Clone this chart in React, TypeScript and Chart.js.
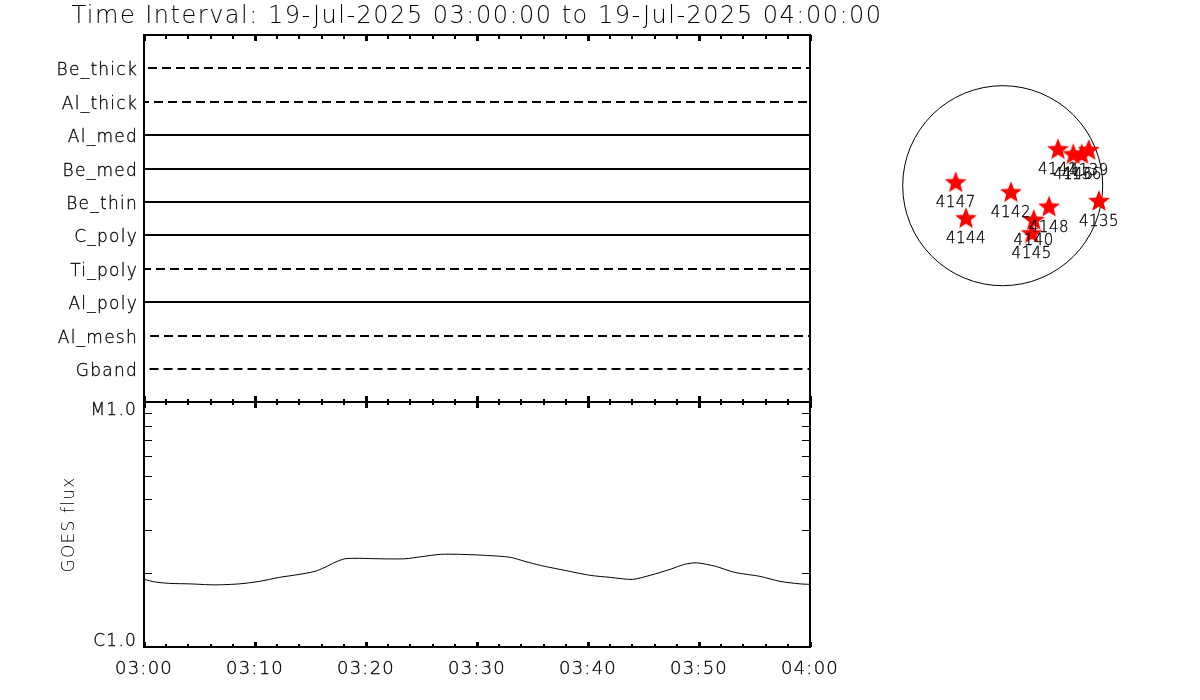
import React, { useEffect, useRef } from "react";
import { Chart, registerables } from "chart.js";

Chart.register(...registerables);

const titleText = "Time Interval: 19-Jul-2025 03:00:00 to 19-Jul-2025 04:00:00";
const filters = ["Be_thick", "Al_thick", "Al_med", "Be_med", "Be_thin", "C_poly", "Ti_poly", "Al_poly", "Al_mesh", "Gband"];
const filterLevels = [10.011, 8.992, 8.003, 6.984, 5.995, 5.005, 3.986, 2.997, 1.978, 0.989];
const filterStart = [0.36, 0, 0, 0, 0, 0, 0, 0, 0, 0.5];
const filterEnd = [60, 60, 60, 60, 60, 60, 60, 60, 60, 60];
const filterDashed = [true, true, false, false, false, false, true, false, true, true];
const filterDashPhase = [0, 4, 0, 0, 0, 0, 2, 0, 8, 0];

const goesMinutes = [0, 0.95, 2.3, 4.1, 6.36, 8.6, 10.4, 12.2, 14.0, 15.4, 16.3, 17.2, 18.1, 19.4, 21.2, 23.5, 24.9, 26.7, 28.4, 30.7, 33.0, 34.3, 35.7, 37.9, 40.2, 42.0, 44.0, 45.6, 47.4, 48.7, 49.8, 51.5, 53.2, 55.5, 57.3, 59.1, 60];
const goesFlux = [1.888, 1.844, 1.818, 1.81, 1.793, 1.81, 1.853, 1.924, 1.979, 2.036, 2.114, 2.216, 2.291, 2.301, 2.291, 2.291, 2.334, 2.389, 2.389, 2.367, 2.323, 2.237, 2.154, 2.055, 1.961, 1.924, 1.888, 1.961, 2.075, 2.175, 2.206, 2.134, 2.017, 1.942, 1.853, 1.81, 1.802];
const goesTicks = [1, 2, 3, 4, 5, 6, 7, 8, 9, 10];
const goesLabels: Record<number, string> = { 1: "C1.0", 10: "M1.0" };
const timeLabels: Record<number, string> = { 0: "03:00", 10: "03:10", 20: "03:20", 30: "03:30", 40: "03:40", 50: "03:50", 60: "04:00" };

const regionIds = ["4141", "4146", "4136", "4139", "4147", "4144", "4142", "4148", "4140", "4145", "4135"];
const regionX = [523, 667, 747, 813, -444, -347, 78, 438, 293, 274, 910];
const regionY = [344, 297, 297, 337, 32, -308, -62, -198, -324, -450, -145];

const FONT = "'DejaVu Sans'";
const AREA = { left: 144, right: 810, top: 35, split: 402, bottom: 647 };
const DISK = { cx: 1002.7, cy: 185.7, r: 100, arcsec: 945 };

function makeStar() {
  const c = document.createElement("canvas");
  c.width = 26;
  c.height = 26;
  const g = c.getContext("2d")!;
  g.fillStyle = "#ff0000";
  g.beginPath();
  for (let i = 0; i < 10; i++) {
    const r = i % 2 === 0 ? 11.5 : 5;
    const a = -Math.PI / 2 + (i * Math.PI) / 5;
    const px = 13 + r * Math.cos(a);
    const py = 13.5 + r * Math.sin(a);
    if (i === 0) g.moveTo(px, py);
    else g.lineTo(px, py);
  }
  g.closePath();
  g.fill();
  return c;
}

const stroke = (g: CanvasRenderingContext2D, w: number, x1: number, y1: number, x2: number, y2: number) => {
  g.lineWidth = w;
  g.beginPath();
  g.moveTo(x1, y1);
  g.lineTo(x2, y2);
  g.stroke();
};

const shiftLabels = (s: any, by: (label: string) => number) => {
  if (s.__shifted) return;
  s.__shifted = true;
  const orig = s._computeLabelItems.bind(s);
  s._computeLabelItems = (ca: any) =>
    orig(ca).map((it: any) => {
      it.options.translation[1] += by(it.label);
      return it;
    });
};

const spacing = (id: string, px: string) => ({
  id,
  beforeDraw(chart: any) {
    chart.ctx.letterSpacing = px;
  },
});

export default function App() {
  const titleRef = useRef<HTMLCanvasElement>(null);
  const topRef = useRef<HTMLCanvasElement>(null);
  const botRef = useRef<HTMLCanvasElement>(null);
  const diskRef = useRef<HTMLCanvasElement>(null);

  useEffect(() => {
    const W = 1200;
    const H = 700;
    const xTicks = { stepSize: 2, autoSkip: false, maxRotation: 0, minRotation: 0, includeBounds: true };
    const textInk = { textStrokeColor: "#000", textStrokeWidth: 0.3 };

    const head = new Chart(titleRef.current!, {
      type: "line",
      data: { datasets: [] },
      options: {
        responsive: false,
        animation: false,
        events: [],
        plugins: {
          legend: { display: false },
          tooltip: { enabled: false },
          title: {
            display: true,
            text: titleText,
            color: "#000",
            font: { family: FONT, size: 24, weight: "200", lineHeight: 1.2 },
            padding: { top: 2, bottom: 2 },
          },
        },
        scales: { x: { display: false }, y: { display: false } },
      } as any,
      plugins: [spacing("headSpacing", "1.5px")] as any,
    });

    const top = new Chart(topRef.current!, {
      type: "line",
      data: {
        datasets: filters.map((name, i) => ({
          label: name,
          data: [
            { x: filterStart[i], y: filterLevels[i] },
            { x: filterEnd[i], y: filterLevels[i] },
          ],
          borderColor: "#000",
          borderWidth: 2,
          borderCapStyle: "butt",
          borderDash: filterDashed[i] ? [9, 5] : [],
          borderDashOffset: filterDashPhase[i],
          pointRadius: 0,
        })),
      },
      options: {
        responsive: false,
        animation: false,
        events: [],
        layout: { padding: { left: 0, right: W - AREA.right, top: AREA.top, bottom: H - AREA.split } },
        plugins: { legend: { display: false }, tooltip: { enabled: false } },
        scales: {
          x: {
            type: "linear",
            min: 0,
            max: 60,
            grid: { display: false },
            border: { display: false },
            ticks: { ...xTicks, display: false },
            afterFit: (s: any) => { s.height = 0; },
          },
          y: {
            type: "linear",
            min: 0,
            max: 11,
            grid: { display: false, drawTicks: false },
            border: { display: false },
            afterBuildTicks: (s: any) => { s.ticks = filterLevels.map((value) => ({ value })); },
            ticks: {
              ...textInk,
              autoSkip: false,
              padding: 6,
              color: "#000",
              font: { family: FONT, size: 17, weight: "200" },
              callback: (v: any) => filters[filterLevels.indexOf(v)] ?? "",
            },
            afterFit: (s: any) => {
              s.width = AREA.left;
              shiftLabels(s, () => 3);
            },
          },
        },
      } as any,
      plugins: [
        spacing("topSpacing", "1.25px"),
        {
          id: "topFrame",
          afterDatasetsDraw(chart: any) {
            const g = chart.ctx as CanvasRenderingContext2D;
            const { left, right, top: t, bottom } = chart.chartArea;
            g.save();
            g.strokeStyle = "#000";
            g.setLineDash([]);
            stroke(g, 2, left - 1, t, right + 1, t);
            stroke(g, 2, left - 1, bottom, right + 1, bottom);
            stroke(g, 2, left, t, left, bottom);
            stroke(g, 2, right, t, right, bottom);
            for (const tick of chart.scales.x.ticks) {
              const x = Math.round(chart.scales.x.getPixelForValue(tick.value));
              const major = tick.value % 10 === 0;
              const w = major ? 3 : 2;
              const xx = major ? x + 0.5 : x;
              stroke(g, w, xx, t, xx, t + (major ? 6 : 4));
              stroke(g, w, xx, bottom, xx, bottom - (major ? 6 : 3));
            }
            g.restore();
          },
        },
      ] as any,
    });

    const bot = new Chart(botRef.current!, {
      type: "line",
      data: {
        datasets: [
          {
            label: "GOES flux",
            data: goesMinutes.map((x, i) => ({ x, y: goesFlux[i] })),
            borderColor: "#000",
            borderWidth: 1,
            pointRadius: 0,
            tension: 0.25,
          },
        ],
      },
      options: {
        responsive: false,
        animation: false,
        events: [],
        layout: { padding: { left: 0, right: W - AREA.right, top: AREA.split, bottom: 0 } },
        plugins: { legend: { display: false }, tooltip: { enabled: false } },
        scales: {
          x: {
            type: "linear",
            min: 0,
            max: 60,
            grid: { display: false, drawTicks: false },
            border: { display: false },
            ticks: {
              ...xTicks,
              ...textInk,
              padding: 12,
              color: "#000",
              font: { family: FONT, size: 18, weight: "200" },
              callback: (v: any) => timeLabels[Number(v)] ?? "",
            },
            afterFit: (s: any) => { s.height = H - AREA.bottom; },
          },
          y: {
            type: "logarithmic",
            min: 1,
            max: 10,
            grid: { display: false, drawTicks: false },
            border: { display: false },
            title: {
              display: true,
              text: "GOES flux",
              color: "#000",
              font: { family: FONT, size: 17, weight: "200", lineHeight: 1.2 },
              padding: { top: 59, bottom: 0 },
            },
            afterBuildTicks: (s: any) => { s.ticks = goesTicks.map((value) => ({ value })); },
            ticks: {
              ...textInk,
              autoSkip: false,
              padding: 7,
              color: "#000",
              font: { family: FONT, size: 17, weight: "200" },
              callback: (v: any) => goesLabels[Number(v)] ?? "",
            },
            afterFit: (s: any) => {
              s.width = AREA.left;
              shiftLabels(s, (l) => (l === "M1.0" ? 9 : -5));
            },
          },
        },
      } as any,
      plugins: [
        spacing("botSpacing", "1.2px"),
        {
          id: "botFrame",
          afterDatasetsDraw(chart: any) {
            const g = chart.ctx as CanvasRenderingContext2D;
            const { left, right, top: t, bottom } = chart.chartArea;
            g.save();
            g.strokeStyle = "#000";
            stroke(g, 2, left - 1, t, right + 1, t);
            stroke(g, 2, left - 1, bottom, right + 1, bottom);
            stroke(g, 2, left, t, left, bottom);
            stroke(g, 2, right, t, right, bottom);
            for (const tick of chart.scales.x.ticks) {
              const x = Math.round(chart.scales.x.getPixelForValue(tick.value));
              const major = tick.value % 10 === 0;
              const w = major ? 3 : 2;
              const xx = major ? x + 0.5 : x;
              stroke(g, w, xx, t, xx, t + (major ? 6 : 3));
              stroke(g, w, xx, bottom, xx, bottom - (major ? 5 : 3));
            }
            for (const v of goesTicks.slice(1, -1)) {
              const y = Math.round(chart.scales.y.getPixelForValue(v)) + 0.5;
              stroke(g, 1, left, y, left + 8, y);
              stroke(g, 1, right, y, right - 8, y);
            }
            g.restore();
          },
        },
      ] as any,
    });

    const star = makeStar();
    const disk = new Chart(diskRef.current!, {
      type: "scatter",
      data: {
        datasets: [
          {
            label: "Regions",
            order: 1,
            clip: false,
            data: regionX.map((x, i) => ({ x, y: regionY[i] })),
            pointStyle: star,
            pointRadius: 13,
          },
          {
            label: "Solar disk",
            order: 2,
            clip: false,
            data: [{ x: 0, y: 0 }],
            pointStyle: "circle",
            pointRadius: DISK.r,
            pointBackgroundColor: "rgba(0,0,0,0)",
            pointBorderColor: "#000",
            pointBorderWidth: 1,
          },
        ],
      },
      options: {
        responsive: false,
        animation: false,
        events: [],
        layout: {
          autoPadding: false,
          padding: {
            left: DISK.cx - DISK.r,
            right: W - DISK.cx - DISK.r,
            top: DISK.cy - DISK.r,
            bottom: H - DISK.cy - DISK.r,
          },
        },
        plugins: { legend: { display: false }, tooltip: { enabled: false } },
        scales: {
          x: { type: "linear", display: false, min: -DISK.arcsec, max: DISK.arcsec },
          y: { type: "linear", display: false, min: -DISK.arcsec, max: DISK.arcsec },
        },
      } as any,
      plugins: [
        {
          id: "regionLabels",
          afterDatasetsDraw(chart: any) {
            const g = chart.ctx as CanvasRenderingContext2D;
            g.save();
            g.fillStyle = "#000";
            g.strokeStyle = "#000";
            g.lineWidth = 0.3;
            g.font = `200 15px ${FONT}`;
            (g as any).letterSpacing = "0.5px";
            g.textAlign = "center";
            g.textBaseline = "middle";
            regionIds.forEach((id, i) => {
              const x = chart.scales.x.getPixelForValue(regionX[i]);
              const y = chart.scales.y.getPixelForValue(regionY[i]);
              g.fillText(id, x, y + 21);
              g.strokeText(id, x, y + 21);
            });
            g.restore();
          },
        },
      ] as any,
    });

    return () => {
      head.destroy();
      top.destroy();
      bot.destroy();
      disk.destroy();
    };
  }, []);

  const style: React.CSSProperties = { position: "absolute", left: 0, top: 0, display: "block" };
  return (
    <div style={{ position: "absolute", left: 0, top: 0, width: 1200, height: 700, background: "#fff" }}>
      <canvas ref={titleRef} width={954} height={34} style={style} />
      <canvas ref={topRef} width={1200} height={700} style={style} />
      <canvas ref={botRef} width={1200} height={700} style={style} />
      <canvas ref={diskRef} width={1200} height={700} style={style} />
    </div>
  );
}
